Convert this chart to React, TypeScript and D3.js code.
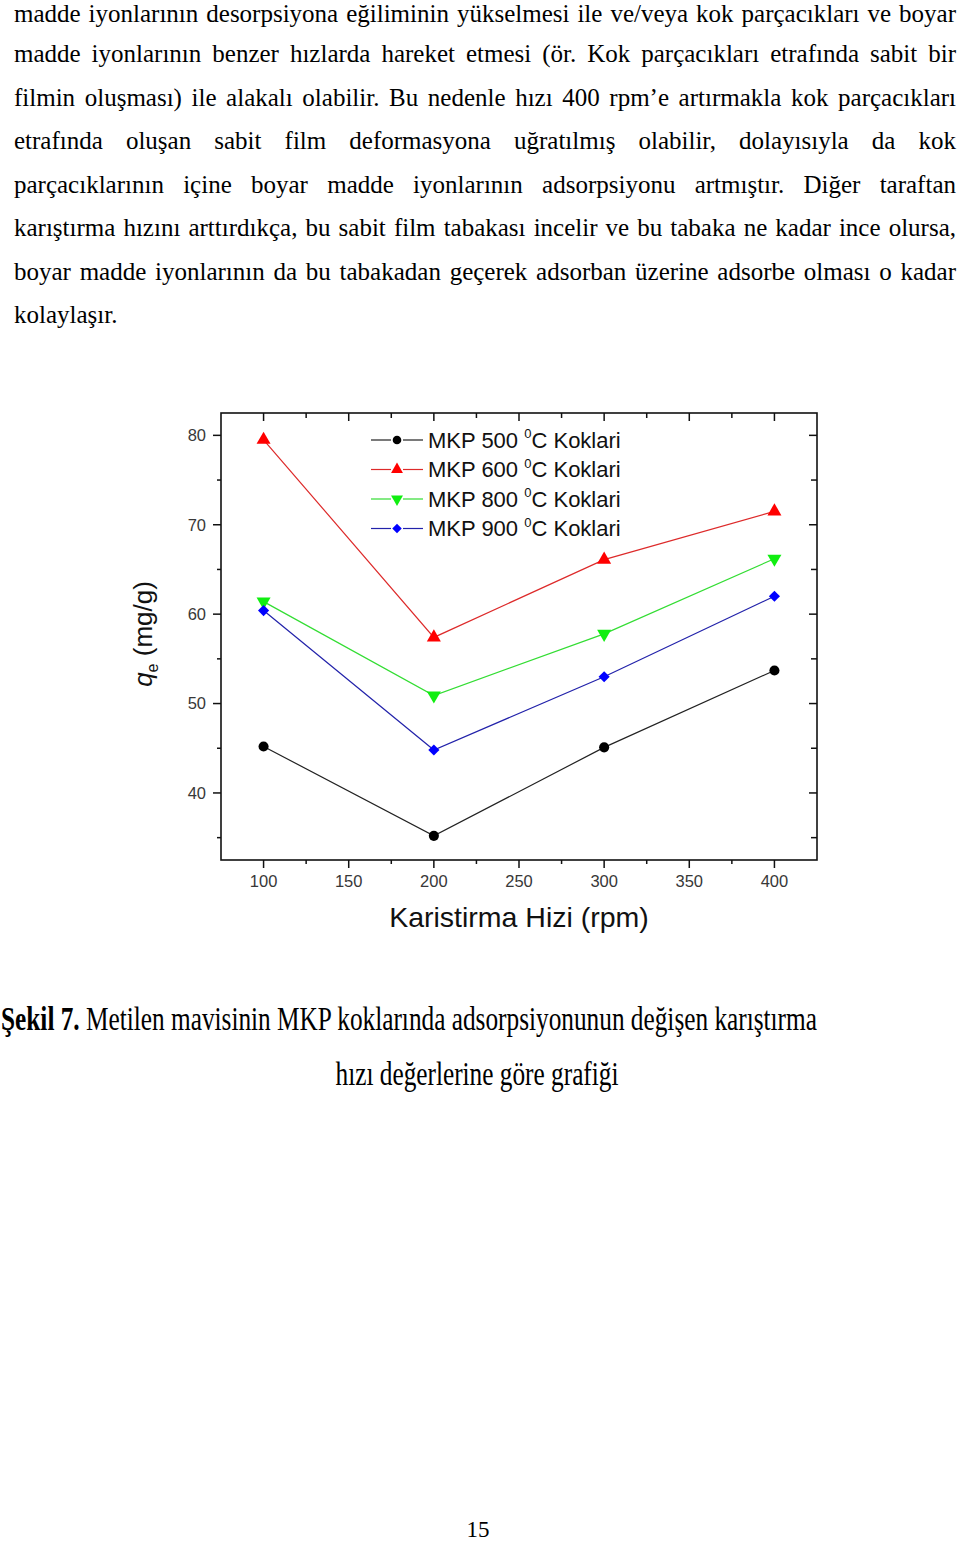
import React, { useEffect, useRef } from 'react';
import * as d3 from 'd3';

// ---- data ----
const speeds = [100, 200, 300, 400];
const mkp500 = [45.2, 35.2, 45.1, 53.7];
const mkp600 = [79.5, 57.4, 66.1, 71.5];
const mkp800 = [61.4, 50.9, 57.8, 66.2];
const mkp900 = [60.4, 44.8, 53.0, 62.0];
const seriesTemps = ['500', '600', '800', '900'];
const xTicks = [100, 150, 200, 250, 300, 350, 400];
const xMinorTicks = [125, 175, 225, 275, 325, 375];
const yTicks = [40, 50, 60, 70, 80];
const yMinorTicks = [35, 45, 55, 65, 75];

const paragraphLines = [
  'madde iyonlarının desorpsiyona eğiliminin yükselmesi ile ve/veya kok parçacıkları ve boyar',
  'madde iyonlarının benzer hızlarda hareket etmesi (ör. Kok parçacıkları etrafında sabit bir',
  'filmin oluşması) ile alakalı olabilir. Bu nedenle hızı 400 rpm’e artırmakla kok parçacıkları',
  'etrafında oluşan sabit film deformasyona uğratılmış olabilir, dolayısıyla da kok',
  'parçacıklarının içine boyar madde iyonlarının adsorpsiyonu artmıştır. Diğer taraftan',
  'karıştırma hızını arttırdıkça, bu sabit film tabakası incelir ve bu tabaka ne kadar ince olursa,',
  'boyar madde iyonlarının da bu tabakadan geçerek adsorban üzerine adsorbe olması o kadar',
  'kolaylaşır.',
];
const captionBold = 'Şekil 7.';
const captionRest = ' Metilen mavisinin MKP koklarında adsorpsiyonunun değişen karıştırma';
const captionLine2 = 'hızı değerlerine göre grafiği';
const pageNumber = '15';

const series = [
  { temp: seriesTemps[0], values: mkp500, line: '#222222', fill: '#000000', shape: 'circle' },
  { temp: seriesTemps[1], values: mkp600, line: '#dd2a2a', fill: '#ff0000', shape: 'up' },
  { temp: seriesTemps[2], values: mkp800, line: '#33dd33', fill: '#11ee11', shape: 'down' },
  { temp: seriesTemps[3], values: mkp900, line: '#2222aa', fill: '#0000ff', shape: 'diamond' },
];

function markerPath(shape: string): { d: string; rot: number } {
  if (shape === 'circle') return { d: d3.symbol(d3.symbolCircle, 80)() as string, rot: 0 };
  if (shape === 'up') return { d: d3.symbol(d3.symbolTriangle, 85)() as string, rot: 0 };
  if (shape === 'down') return { d: d3.symbol(d3.symbolTriangle, 85)() as string, rot: 180 };
  return { d: d3.symbol(d3.symbolSquare, 62)() as string, rot: 45 };
}

const FONT_SANS = '"Liberation Sans", Arial, sans-serif';
const FONT_SERIF = '"Liberation Serif", "Times New Roman", serif';

export default function App() {
  const paraRef = useRef<SVGGElement>(null);

  const left = 221, right = 817, top = 413, bottom = 860;
  const x = d3.scaleLinear().domain([75, 425]).range([left, right]);
  const y = d3.scaleLinear().domain([32.5, 82.5]).range([bottom, top]);
  const lineGen = d3
    .line<number>()
    .x((_, i) => x(speeds[i]))
    .y((v) => y(v));

  useEffect(() => {
    const g = d3.select(paraRef.current);
    g.selectAll('*').remove();
    const textLeft = 14, textRight = 956;
    paragraphLines.forEach((line, i) => {
      const baseline = i === 0 ? 22.4 : 18.6 + i * 43.55;
      const words = line.split(' ');
      const texts = words.map((w) => g.append('text').attr('y', baseline).text(w));
      const widths = texts.map((t) => (t.node() as SVGTextElement).getComputedTextLength());
      const isLast = i === paragraphLines.length - 1;
      const total = d3.sum(widths);
      const gap = isLast || words.length < 2 ? 25 * 0.25 : (textRight - textLeft - total) / (words.length - 1);
      let cx = textLeft;
      texts.forEach((t, j) => {
        t.attr('x', cx);
        cx += widths[j] + gap;
      });
    });
  }, []);

  return (
    <svg
      width={960}
      height={1543}
      style={{ position: 'absolute', left: 0, top: 0, background: '#fff' }}
    >
      <rect x={0} y={0} width={960} height={1543} fill="#fff" />
      <g ref={paraRef} fontFamily={FONT_SERIF} fontSize={25} fill="#000" />

      {/* plot frame */}
      <rect x={left} y={top} width={right - left} height={bottom - top} fill="none" stroke="#111" strokeWidth={1.6} />

      {/* x ticks */}
      {xTicks.map((t) => (
        <g key={'xt' + t}>
          <line x1={x(t)} x2={x(t)} y1={bottom} y2={bottom + 8} stroke="#111" strokeWidth={1.5} />
          <line x1={x(t)} x2={x(t)} y1={top} y2={top + 8} stroke="#111" strokeWidth={1.5} />
          <text x={x(t)} y={887} textAnchor="middle" fontFamily={FONT_SANS} fontSize={16.5} fill="#383838">
            {t}
          </text>
        </g>
      ))}
      {xMinorTicks.map((t) => (
        <g key={'xm' + t}>
          <line x1={x(t)} x2={x(t)} y1={bottom} y2={bottom + 4} stroke="#111" strokeWidth={1.5} />
          <line x1={x(t)} x2={x(t)} y1={top} y2={top + 5} stroke="#111" strokeWidth={1.5} />
        </g>
      ))}
      {/* y ticks */}
      {yTicks.map((t) => (
        <g key={'yt' + t}>
          <line x1={left - 8} x2={left} y1={y(t)} y2={y(t)} stroke="#111" strokeWidth={1.5} />
          <line x1={right - 8} x2={right} y1={y(t)} y2={y(t)} stroke="#111" strokeWidth={1.5} />
          <text x={206} y={y(t)} dy="0.35em" textAnchor="end" fontFamily={FONT_SANS} fontSize={16.5} fill="#383838">
            {t}
          </text>
        </g>
      ))}
      {yMinorTicks.map((t) => (
        <g key={'ym' + t}>
          <line x1={left - 4} x2={left} y1={y(t)} y2={y(t)} stroke="#111" strokeWidth={1.5} />
          <line x1={right - 6} x2={right} y1={y(t)} y2={y(t)} stroke="#111" strokeWidth={1.5} />
        </g>
      ))}

      {/* series */}
      {series.map((s) => (
        <path key={'l' + s.temp} d={lineGen(s.values) as string} fill="none" stroke={s.line} strokeWidth={1.2} />
      ))}
      {series.map((s) => {
        const m = markerPath(s.shape);
        return s.values.map((v, i) => (
          <path
            key={'m' + s.temp + i}
            d={m.d}
            transform={`translate(${x(speeds[i])},${y(v)}) rotate(${m.rot})`}
            fill={s.fill}
          />
        ));
      })}

      {/* legend */}
      {series.map((s, i) => {
        const cy = 440 + i * 29.5;
        const m = markerPath(s.shape);
        return (
          <g key={'lg' + s.temp}>
            <line x1={371} x2={391} y1={cy} y2={cy} stroke={s.line} strokeWidth={1.2} />
            <line x1={403} x2={423} y1={cy} y2={cy} stroke={s.line} strokeWidth={1.2} />
            <path d={m.d} transform={`translate(397,${cy}) rotate(${m.rot}) scale(0.85)`} fill={s.fill} />
            <text x={428} y={cy + 7.8} fontFamily={FONT_SANS} fontSize={22} fill="#111">
              {`MKP ${s.temp} `}
              <tspan fontSize={13} dy={-9.5}>0</tspan>
              <tspan dy={9.5}>C Koklari</tspan>
            </text>
          </g>
        );
      })}

      {/* axis titles */}
      <text x={519} y={927} textAnchor="middle" fontFamily={FONT_SANS} fontSize={28.5} fill="#111">
        Karistirma Hizi (rpm)
      </text>
      <text
        transform="translate(152,634) rotate(-90)"
        textAnchor="middle"
        fontFamily={FONT_SANS}
        fontSize={26}
        fill="#111"
      >
        <tspan fontStyle="italic">q</tspan>
        <tspan fontSize={16} dy={6}>e</tspan>
        <tspan dy={-6}> (mg/g)</tspan>
      </text>

      {/* caption */}
      <text transform="translate(1,1030) scale(1,1.3)" fontFamily={FONT_SERIF} fontSize={25.3} fill="#000">
        <tspan fontWeight="bold">{captionBold}</tspan>
        <tspan>{captionRest}</tspan>
      </text>
      <text transform="translate(477,1085) scale(1,1.3)" textAnchor="middle" fontFamily={FONT_SERIF} fontSize={25.3} fill="#000">
        {captionLine2}
      </text>

      {/* page number */}
      <text x={478} y={1537} textAnchor="middle" fontFamily={FONT_SERIF} fontSize={23} fill="#000">
        {pageNumber}
      </text>
    </svg>
  );
}
